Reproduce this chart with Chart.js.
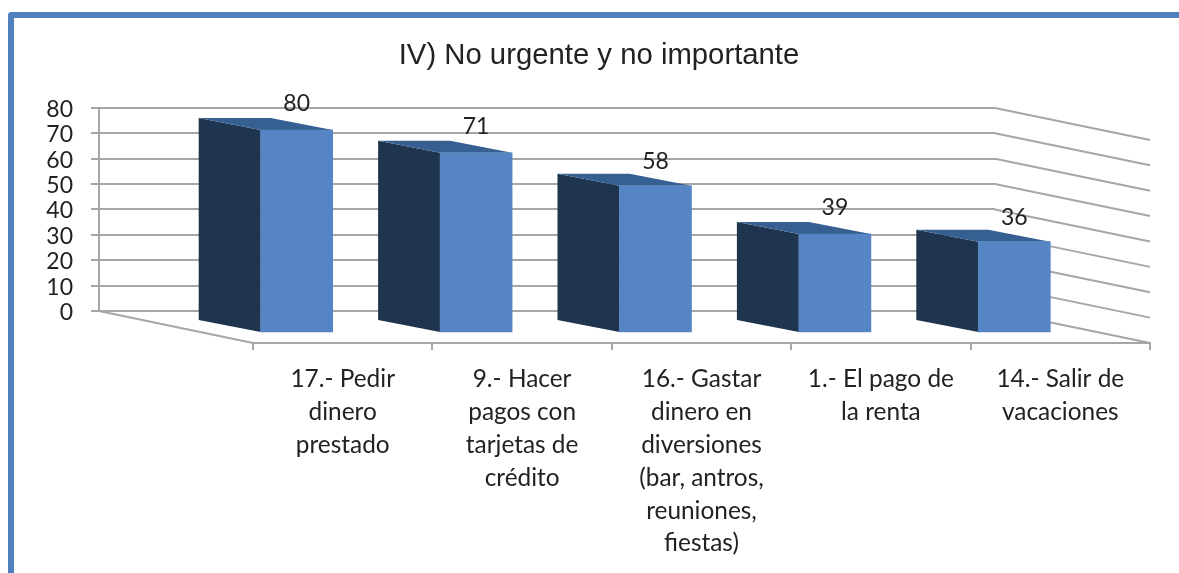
<!DOCTYPE html>
<html>
<head>
<meta charset="utf-8">
<title>IV) No urgente y no importante</title>
<script src="https://cdn.jsdelivr.net/npm/chart.js@4"></script>
<style>
  html, body { margin: 0; padding: 0; background: #fff; overflow: hidden; }
  #frame { position: absolute; left: 8px; top: 12px; width: 1171px; height: 561px; box-sizing: border-box;
           border-top: 6px solid #4f81bd; border-left: 6px solid #4f81bd; border-top-left-radius: 4px; }
  #chart { position: absolute; left: 0; top: 0; }
</style>
</head>
<body>
<div id="frame"></div>
<canvas id="chart" width="1179" height="573"></canvas>
<script>
const chartTitle = 'IV) No urgente y no importante';
const categories = [
  ['17.- Pedir', 'dinero', 'prestado'],
  ['9.- Hacer', 'pagos con', 'tarjetas de', 'crédito'],
  ['16.- Gastar', 'dinero en', 'diversiones', '(bar, antros,', 'reuniones,', 'fiestas)'],
  ['1.- El pago de', 'la renta'],
  ['14.- Salir de', 'vacaciones']
];
const values = [80, 71, 58, 39, 36];

const frontColor = '#5585c4';
const sideColor = '#1f344e';
const topColor = '#376092';
const gridColor = '#a6a6a6';
const textColor = '#222222';

// oblique projection: back wall -> front of the floor
const floorDx = 154, floorDy = 32;
// front face of a bar relative to the front axis
const barDx = -46, barDy = 22;
// depth of a bar
const depthDx = 62, depthDy = 12;
// the value labels sit a little unevenly above the bars
const labelNudge = [2, 2, 4, 2, 4];

const fake3d = {
  id: 'fake3d',
  afterLayout(chart) {
    // category axis belongs to the front edge of the floor
    const x = chart.scales.x;
    const area = chart.chartArea;
    x.left = area.left + floorDx;
    x.right = area.right + floorDx + 1;
    x.top = area.bottom + floorDy;
    x.bottom = chart.height;
    x.configure();
    chart.titleBlock.left = 0;
    chart.titleBlock.right = 1198;
  },
  beforeDatasetsDraw(chart) {
    const ctx = chart.ctx;
    const area = chart.chartArea;
    const y = chart.scales.y;
    ctx.save();
    ctx.strokeStyle = gridColor;
    ctx.lineWidth = 2;
    y.ticks.forEach(t => {
      const py = y.getPixelForValue(t.value);
      ctx.beginPath();
      ctx.moveTo(area.right, py);
      ctx.lineTo(area.right + floorDx + 1, py + floorDy);
      ctx.stroke();
    });
    ctx.beginPath();
    ctx.moveTo(area.left, area.bottom);
    ctx.lineTo(area.left + floorDx, area.bottom + floorDy);
    ctx.stroke();

    chart.getDatasetMeta(0).data.forEach(bar => {
      const l = bar.x - bar.width / 2 + barDx;
      const r = bar.x + bar.width / 2 + barDx;
      const t = bar.y + barDy;
      const b = bar.base + barDy;
      ctx.fillStyle = sideColor;
      ctx.beginPath();
      ctx.moveTo(l, t);
      ctx.lineTo(l - depthDx, t - depthDy);
      ctx.lineTo(l - depthDx, b - depthDy);
      ctx.lineTo(l, b);
      ctx.closePath();
      ctx.fill();
      ctx.fillStyle = topColor;
      ctx.beginPath();
      ctx.moveTo(l, t);
      ctx.lineTo(l - depthDx, t - depthDy);
      ctx.lineTo(r - depthDx, t - depthDy);
      ctx.lineTo(r, t);
      ctx.closePath();
      ctx.fill();
    });
    ctx.restore();
  },
  beforeDatasetDraw(chart) {
    chart.ctx.save();
    chart.ctx.translate(barDx, barDy);
  },
  afterDatasetDraw(chart) {
    chart.ctx.restore();
  },
  afterDatasetsDraw(chart) {
    const ctx = chart.ctx;
    ctx.save();
    ctx.font = '23px Lato';
    ctx.fillStyle = textColor;
    ctx.textAlign = 'center';
    ctx.textBaseline = 'middle';
    chart.getDatasetMeta(0).data.forEach((bar, i) => {
      ctx.fillText(values[i], bar.x + barDx, bar.y + barDy - 28 + labelNudge[i]);
    });
    ctx.restore();
  }
};

new Chart(document.getElementById('chart'), {
  type: 'bar',
  data: {
    labels: categories,
    datasets: [{
      data: values,
      backgroundColor: frontColor,
      barThickness: 72,
      clip: false
    }]
  },
  plugins: [fake3d],
  options: {
    responsive: false,
    animation: false,
    layout: { padding: { right: 184 } },
    plugins: {
      legend: { display: false },
      tooltip: { enabled: false },
      title: {
        display: true,
        text: chartTitle,
        color: textColor,
        font: { family: 'Liberation Sans', size: 29.3, weight: 'normal' },
        padding: { top: 38, bottom: 34.8 }
      }
    },
    scales: {
      x: {
        grid: { drawOnChartArea: false, color: gridColor, lineWidth: 2, tickLength: 7 },
        border: { color: gridColor, width: 2 },
        ticks: {
          color: textColor,
          font: { family: 'Lato', size: 24.4, lineHeight: 1.345 },
          padding: 13,
          autoSkip: false,
          maxRotation: 0,
          minRotation: 0
        },
        afterFit(scale) { scale.height = 262; }
      },
      y: {
        min: 0,
        max: 80,
        grid: { color: gridColor, lineWidth: 2, tickLength: 8 },
        border: { color: gridColor, width: 2 },
        ticks: {
          stepSize: 10,
          autoSkip: false,
          labelOffset: 1.5,
          color: textColor,
          font: { family: 'Lato', size: 23 },
          padding: 18
        },
        afterFit(scale) { scale.width = 99; }
      }
    }
  }
});
</script>
</body>
</html>
